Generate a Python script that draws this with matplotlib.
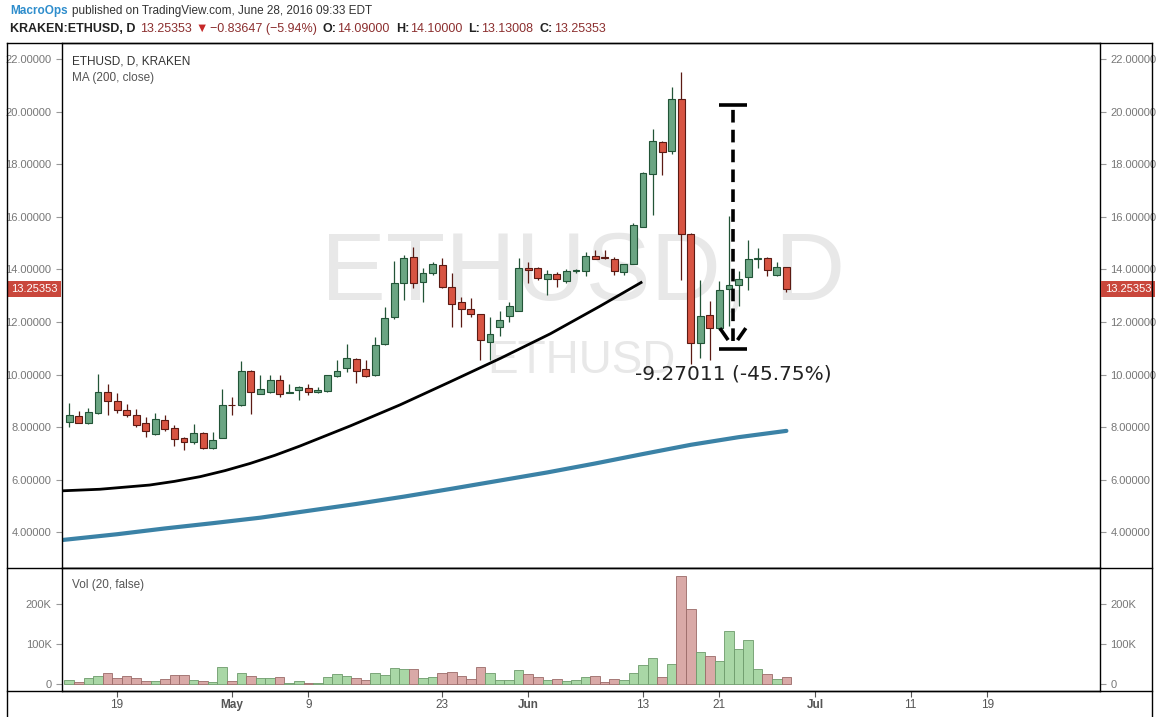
import numpy as np
import matplotlib.pyplot as plt
from matplotlib.lines import Line2D
from matplotlib.ticker import FuncFormatter
import matplotlib.transforms as mtransforms

plt.rcParams['font.family'] = ['Liberation Sans', 'DejaVu Sans']

# daily candles, day 0 = Apr 14 2016, day 75 = Jun 28 2016
opens = [8.20, 8.41, 8.15, 8.53, 9.34, 9.00, 8.67, 8.45, 8.15, 7.76,
         8.26, 7.98, 7.57, 7.43, 7.77, 7.20, 7.60, 8.86, 8.83, 10.14,
         9.28, 9.35, 9.80, 9.31, 9.41, 9.48, 9.33, 9.39, 9.96, 10.24,
         10.60, 10.23, 9.97, 11.15, 12.18, 13.47, 14.48, 13.51, 13.85, 14.17,
         13.32, 12.76, 12.50, 12.30, 11.23, 11.80, 12.24, 12.43, 14.04, 14.07,
         13.62, 13.83, 13.56, 13.95, 13.94, 14.51, 14.46, 14.38, 13.91, 14.20,
         15.63, 17.62, 18.83, 18.52, 20.47, 15.35, 11.19, 12.27, 11.76, 13.25,
         13.41, 13.70, 14.40, 14.42, 13.79, 14.09]
highs = [8.91, 8.62, 8.72, 10.01, 9.63, 9.29, 8.87, 8.68, 8.38, 8.55,
         8.45, 8.08, 7.62, 8.11, 7.80, 7.82, 9.44, 9.14, 10.53, 10.18,
         9.99, 9.99, 9.99, 9.64, 9.58, 9.64, 9.54, 10.00, 10.56, 11.15,
         10.62, 10.56, 11.44, 12.58, 14.33, 14.55, 14.84, 14.04, 14.30, 14.42,
         13.85, 12.94, 12.90, 12.30, 12.18, 12.40, 12.75, 14.42, 14.29, 14.10,
         13.98, 13.91, 14.00, 14.00, 14.67, 14.74, 14.74, 14.48, 14.19, 15.75,
         17.70, 19.34, 18.90, 20.95, 21.52, 15.40, 13.60, 12.78, 13.54, 16.03,
         13.92, 15.12, 14.80, 14.49, 14.30, 14.10]
lows = [8.00, 8.15, 8.12, 8.50, 8.45, 8.55, 8.38, 7.99, 7.62, 7.71,
        7.87, 7.29, 7.13, 7.36, 7.16, 7.16, 7.58, 8.45, 8.81, 8.50,
        9.27, 9.29, 9.16, 9.29, 9.04, 9.21, 9.29, 9.35, 9.92, 10.11,
        9.67, 9.91, 9.95, 11.13, 12.10, 12.84, 13.28, 12.77, 13.80, 13.30,
        11.80, 11.80, 12.20, 10.56, 10.56, 11.48, 12.00, 12.43, 13.47, 13.60,
        13.03, 13.34, 13.47, 13.85, 13.75, 14.38, 14.41, 13.79, 13.79, 14.20,
        15.60, 16.07, 17.59, 18.40, 13.60, 10.40, 10.62, 10.56, 11.70, 11.83,
        12.59, 13.22, 14.04, 13.73, 13.73, 13.13008]
closes = [8.45, 8.17, 8.58, 9.34, 8.99, 8.66, 8.45, 8.10, 7.85, 8.30,
          7.93, 7.54, 7.45, 7.77, 7.20, 7.52, 8.83, 8.83, 10.14, 9.35,
          9.45, 9.80, 9.26, 9.33, 9.53, 9.32, 9.42, 9.99, 10.14, 10.63,
          10.14, 9.94, 11.11, 12.14, 13.47, 14.42, 13.50, 13.85, 14.20, 13.34,
          12.67, 12.48, 12.31, 11.32, 11.53, 12.08, 12.62, 14.04, 13.98, 13.66,
          13.83, 13.62, 13.95, 13.97, 14.51, 14.38, 14.44, 13.95, 14.19, 15.67,
          17.65, 18.88, 18.45, 20.47, 15.35, 11.19, 12.23, 11.76, 13.22, 13.41,
          13.62, 14.39, 14.41, 13.98, 14.08, 13.25353]
volumes_k = [8, 4, 15, 19, 27, 15, 19, 13, 7.5, 7.5,
             11, 22, 21, 10, 7, 4, 41, 7, 27, 20,
             15, 13, 17, 1, 7.5, 2.5, 2.5, 17, 25, 20,
             15, 8, 27, 22, 38, 37, 36, 15, 17, 27,
             30, 18, 12, 41, 27, 10, 10, 33, 25, 16,
             10, 12, 6, 10, 16, 18, 5, 12, 8, 26,
             46, 63, 16, 50, 268, 187, 78, 70, 57, 132,
             87, 110, 37, 25, 12, 17]

# MA(200)
ma_days = [-1, 5, 10, 15, 20, 25, 30, 35, 40, 45, 50, 55, 60, 65, 70, 75]
ma_vals = [3.70, 3.93, 4.15, 4.35, 4.56, 4.82, 5.08, 5.36, 5.66, 5.97,
           6.28, 6.62, 6.98, 7.33, 7.62, 7.86]

# hand drawn curve
curve_days = [-0.8, 3.2, 8.4, 11.0, 13.7, 16.3, 18.9, 21.5, 24.1, 29.4, 34.6,
              39.8, 45.1, 50.3, 55.5, 59.8]
curve_vals = [5.58, 5.64, 5.80, 5.94, 6.12, 6.35, 6.62, 6.93, 7.28, 8.05, 8.85,
              9.72, 10.62, 11.55, 12.60, 13.50]

# measure tool
measure_day = 69.4
measure_top = 20.26
measure_bottom = 10.99
measure_label = '-9.27011 (-45.75%)'

tick_days = [5, 17, 25, 39, 48, 60, 68, 78, 88, 96]
tick_labels = ['19', 'May', '9', '23', 'Jun', '13', '21', 'Jul', '11', '19']
price_ticks = [4, 6, 8, 10, 12, 14, 16, 18, 20, 22]

W, H = 1164, 717


def fx(px):
    return px / W


def fy(py):
    return 1 - py / H


fig = plt.figure(figsize=(W / 100, H / 100), dpi=100)
ax = fig.add_axes([fx(62), fy(568), fx(1100) - fx(62), fy(43) - fy(568)])
axv = fig.add_axes([fx(62), fy(691), fx(1100) - fx(62), fy(568) - fy(691)], sharex=ax)

days = np.arange(len(opens))
o = np.array(opens)
c = np.array(closes)
up = c >= o

body_fill = np.where(up, '#6ba583', '#d75442')
body_edge = np.where(up, '#225437', '#5b1a13')

ax.vlines(days, lows, highs, colors=body_edge, lw=0.9, zorder=3)
ax.bar(days, np.maximum(np.abs(c - o), 0.03), bottom=np.minimum(o, c), width=0.72,
       color=body_fill, edgecolor=body_edge, linewidth=0.8, zorder=4)

ax.plot(ma_days, ma_vals, color='#3b82a6', lw=3.0, solid_capstyle='round', zorder=2)
ax.plot(curve_days, curve_vals, color='black', lw=2.0, solid_joinstyle='round', zorder=2)

# watermarks
ax.text(0.502, 0.56, 'ETHUSD, D', transform=ax.transAxes, fontsize=70,
        color='#e8e8e8', ha='center', va='center', zorder=0)
ax.text(0.500, 0.395, 'ETHUSD', transform=ax.transAxes, fontsize=33,
        color='#e8e8e8', ha='center', va='center', zorder=0)

# measure annotation
half = 1.45
ax.vlines(measure_day, measure_bottom + 0.3, measure_top, colors='black', lw=2.6,
          linestyles=(0, (3.5, 2)), zorder=5)
ax.hlines([measure_top, measure_bottom], measure_day - half, measure_day + half,
          colors='black', lw=2.6, zorder=5)
ax.plot([measure_day - 1.25, measure_day - 0.6], [measure_bottom + 0.72, measure_bottom + 0.38],
        color='black', lw=2.6, zorder=5)
ax.plot([measure_day + 1.25, measure_day + 0.6], [measure_bottom + 0.72, measure_bottom + 0.38],
        color='black', lw=2.6, zorder=5)
ax.text(measure_day, measure_bottom - 0.95, measure_label, ha='center', va='center',
        fontsize=14.5, color='#222222', family=['DejaVu Sans'], zorder=6)

ax.set_xlim(-0.76, 107.8)
ax.set_ylim(2.646, 22.608)
ax.set_yticks(price_ticks)
ax.yaxis.set_major_formatter(FuncFormatter(lambda v, p: f'{v:.5f}'))
ax.tick_params(axis='y', left=True, right=True, labelleft=True, labelright=True,
               labelsize=8, labelcolor='#777777', color='#999999', length=4, width=0.8)
ax.tick_params(axis='x', bottom=False, labelbottom=False)
for s in ax.spines.values():
    s.set_color('black')
    s.set_linewidth(1)

# last price tags
last = closes[-1]
trans = mtransforms.blended_transform_factory(ax.transAxes, ax.transData)
tag = dict(boxstyle='square,pad=0.3', fc='#c9473c', ec='none')
ax.text(-0.0045, last, f'{last:.5f}', transform=trans, ha='right', va='center',
        fontsize=8, color='white', bbox=tag, zorder=10)
ax.text(1.0045, last, f'{last:.5f}', transform=trans, ha='left', va='center',
        fontsize=8, color='white', bbox=tag, zorder=10)

lx = fx(72 - 62) / (fx(1100) - fx(62))
ax.text(lx, 1 - 18 / 525, 'ETHUSD, D, KRAKEN',
        transform=ax.transAxes, fontsize=8.5, color='#333333', va='center', ha='left')
ax.text(lx, 1 - 35 / 525, 'MA (200, close)',
        transform=ax.transAxes, fontsize=8.5, color='#555555', va='center', ha='left')

# volume
vol = np.array(volumes_k) * 1000
vfill = np.where(up, '#a9d7a6', '#d9a9a7')
vedge = np.where(up, '#6d9a6b', '#9a6a68')
axv.bar(days, vol, width=1.0, color=vfill, edgecolor=vedge, linewidth=0.6, zorder=2)
axv.set_ylim(-18750, 288750)
axv.set_yticks([0, 100000, 200000])
axv.yaxis.set_major_formatter(FuncFormatter(lambda v, p: '0' if v == 0 else f'{int(v / 1000)}K'))
axv.tick_params(axis='y', left=True, right=True, labelleft=True, labelright=True,
                labelsize=8, labelcolor='#777777', color='#999999', length=4, width=0.8)
axv.set_xticks(tick_days)
axv.set_xticklabels(tick_labels)
axv.tick_params(axis='x', labelsize=8.5, labelcolor='#555555', color='#555555', length=4, pad=2)
for lbl in axv.get_xticklabels():
    if lbl.get_text() in ('May', 'Jun', 'Jul'):
        lbl.set_fontweight('bold')
for s in axv.spines.values():
    s.set_color('black')
    s.set_linewidth(1)
axv.text(lx, 1 - 17 / 123, 'Vol (20, false)',
         transform=axv.transAxes, fontsize=8.5, color='#555555', va='center', ha='left')

# frame lines
for y in (43, 568, 691):
    fig.add_artist(Line2D([fx(7), fx(1152)], [fy(y), fy(y)], color='black', lw=1))
for x in (7, 1152):
    fig.add_artist(Line2D([fx(x), fx(x)], [fy(43), fy(717)], color='black', lw=1))

# header
renderer = fig.canvas.get_renderer()


def write_parts(x, y, parts, size):
    for txt, color, weight, gap in parts:
        t = fig.text(x, y, txt, fontsize=size, color=color, fontweight=weight,
                     ha='left', va='center')
        bb = t.get_window_extent(renderer)
        x = bb.x1 / W + gap / W
    return x


red = '#8c2f2f'
write_parts(fx(10), fy(11), [('MacroOps', '#2e8dcc', 'bold', 4),
                             ('published on TradingView.com, June 28, 2016 09:33 EDT', '#333333', 'normal', 0)], 8.5)
write_parts(fx(10), fy(29), [('KRAKEN:ETHUSD, D', '#222222', 'bold', 5),
                             ('13.25353', red, 'normal', 3),
                             ('\u25bc', '#c62828', 'normal', 2),
                             ('\u22120.83647 (\u22125.94%)', red, 'normal', 6),
                             ('O:', '#222222', 'bold', 1), ('14.09000', red, 'normal', 6),
                             ('H:', '#222222', 'bold', 1), ('14.10000', red, 'normal', 6),
                             ('L:', '#222222', 'bold', 1), ('13.13008', red, 'normal', 6),
                             ('C:', '#222222', 'bold', 1), ('13.25353', red, 'normal', 0)], 9)

fig.savefig('out.png', dpi=100)
